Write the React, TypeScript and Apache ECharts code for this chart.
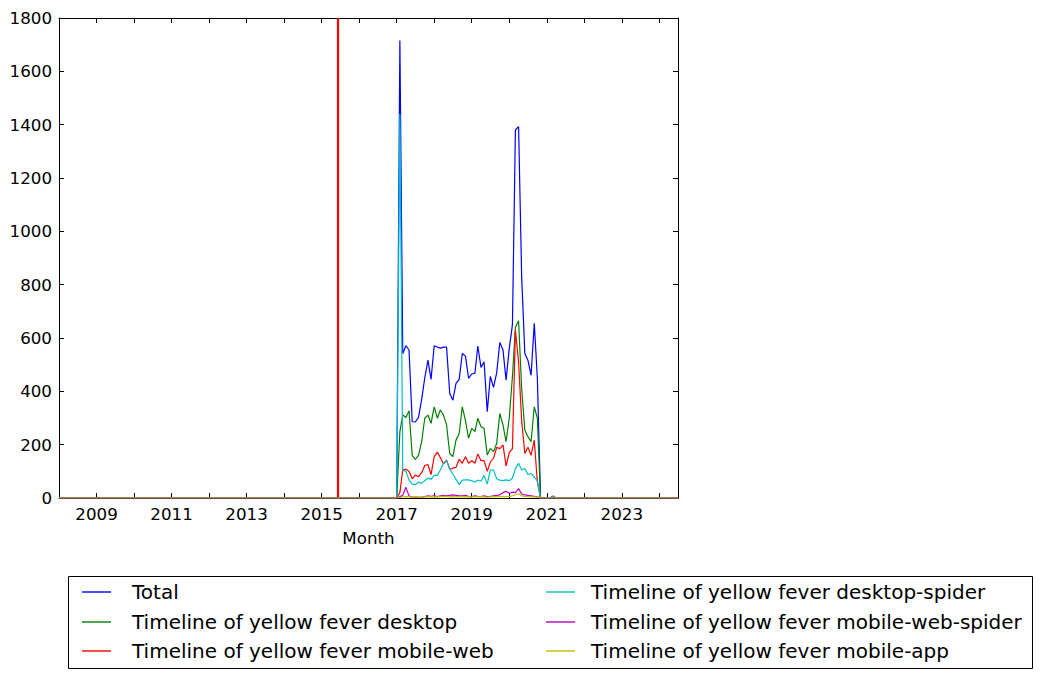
import React, { useEffect, useRef } from "react";
import * as echarts from "echarts";

// Names and colours (matplotlib classic b, g, r, c, m, y)
const seriesNames = [
  "Total",
  "Timeline of yellow fever desktop",
  "Timeline of yellow fever mobile-web",
  "Timeline of yellow fever desktop-spider",
  "Timeline of yellow fever mobile-web-spider",
  "Timeline of yellow fever mobile-app",
];
const seriesColors = ["#0000ff", "#008000", "#ff0000", "#00bfbf", "#bf00bf", "#bfbf00"];

// Monthly values from 2017-01 to 2021-06 (54 months); all other months are 0
const total = [
  0, 1716, 542, 571, 555, 286, 285, 302, 370, 450, 517, 445,
  571, 566, 562, 566, 566, 392, 367, 430, 445, 542, 532, 449,
  465, 468, 570, 490, 510, 324, 456, 415, 470, 583, 555, 442,
  560, 650, 1380, 1393, 830, 542, 517, 460, 655, 450, 0, 0,
  0, 0, 7, 0, 0, 0,
];
const desktop = [
  0, 249, 311, 302, 327, 160, 145, 160, 211, 299, 311, 280,
  342, 299, 330, 311, 274, 167, 155, 217, 242, 342, 290, 224,
  261, 249, 299, 267, 261, 161, 186, 174, 205, 317, 274, 211,
  300, 455, 640, 665, 410, 255, 230, 211, 342, 300, 0, 0,
  0, 0, 0, 0, 0, 0,
];
const mobileWeb = [
  0, 20, 105, 108, 100, 72, 86, 80, 95, 122, 125, 88,
  155, 172, 152, 128, 142, 108, 112, 115, 145, 130, 155, 130,
  140, 130, 165, 140, 140, 100, 135, 150, 190, 185, 199, 120,
  170, 185, 630, 510, 290, 167, 190, 160, 217, 60, 0, 0,
  0, 0, 0, 0, 0, 0,
];
const desktopSpider = [
  0, 1440, 105, 100, 67, 52, 50, 60, 55, 65, 75, 70,
  85, 85, 105, 130, 140, 110, 90, 70, 50, 67, 68, 68,
  64, 60, 67, 63, 85, 52, 105, 105, 72, 67, 65, 68,
  65, 75, 110, 130, 105, 110, 88, 92, 78, 65, 0, 0,
  0, 0, 7, 0, 0, 0,
];
const mobileWebSpider = [
  0, 5, 10, 40, 8, 3, 3, 2, 3, 5, 8, 6,
  8, 5, 8, 10, 8, 10, 12, 10, 8, 8, 10, 6,
  5, 8, 6, 5, 8, 5, 6, 8, 10, 12, 20, 25,
  18, 22, 20, 35, 15, 12, 10, 8, 6, 4, 0, 0,
  0, 0, 0, 0, 0, 0,
];
const mobileApp = [
  0, 2, 4, 5, 4, 3, 3, 4, 3, 4, 5, 4,
  5, 4, 5, 6, 5, 4, 5, 4, 5, 4, 5, 4,
  4, 5, 4, 5, 4, 3, 4, 5, 4, 5, 6, 5,
  6, 8, 12, 16, 8, 6, 5, 4, 4, 3, 0, 0,
  0, 0, 0, 0, 0, 0,
];
const seriesValues = [total, desktop, mobileWeb, desktopSpider, mobileWebSpider, mobileApp];

const firstMonth = { year: 2017, month: 0 };
const axisStart = { year: 2008, month: 0 };
const axisEnd = { year: 2024, month: 6 };
const redLineDate = { year: 2015, month: 5, day: 4 };
const yTicks = { min: 0, max: 1800, interval: 200 };

function decYear(y: number, m: number, d = 1): number {
  const a = Date.UTC(y, m, d);
  const b = Date.UTC(y, 0, 1);
  const c = Date.UTC(y + 1, 0, 1);
  return y + (a - b) / (c - b);
}

function buildPoints(values: number[]): number[][] {
  const pts: number[][] = [[decYear(axisStart.year, axisStart.month), 0]];
  pts.push([decYear(2016, 11), 0]);
  values.forEach((v, k) => {
    const mm = firstMonth.month + k;
    pts.push([decYear(firstMonth.year + Math.floor(mm / 12), mm % 12), v]);
  });
  pts.push([decYear(axisEnd.year, axisEnd.month), 0]);
  return pts;
}

const FONT = "DejaVu Sans";

export default function App() {
  const ref = useRef<HTMLDivElement>(null);
  useEffect(() => {
    if (!ref.current) return;
    const chart = echarts.init(ref.current, undefined, { renderer: "svg" });
    const xMin = decYear(axisStart.year, axisStart.month);
    const xMax = decYear(axisEnd.year, axisEnd.month);
    const tickFont = 16.7;

    const series: any[] = seriesValues.map((vals, i) => ({
      name: seriesNames[i],
      type: "line",
      data: buildPoints(vals),
      symbol: "none",
      showSymbol: false,
      lineStyle: { color: seriesColors[i], width: 1.2 },
      itemStyle: { color: seriesColors[i] },
      z: 2 + i,
    }));
    series[0].markLine = {
      silent: true,
      symbol: ["none", "none"],
      label: { show: false },
      lineStyle: { color: "#ff0000", width: 2.2, type: "solid" },
      data: [{ xAxis: decYear(redLineDate.year, redLineDate.month, redLineDate.day) }],
    };

    const legendEls: any[] = [
      {
        type: "rect",
        shape: { x: 68.5, y: 576.5, width: 964, height: 92 },
        style: { fill: "#fff", stroke: "#000", lineWidth: 1 },
        z: 10,
      },
    ];
    seriesNames.forEach((name, i) => {
      const col = Math.floor(i / 3);
      const row = i % 3;
      const x1 = col === 0 ? 82 : 546;
      const tx = col === 0 ? 132 : 591;
      const y = [592, 622, 651][row];
      legendEls.push({
        type: "line",
        shape: { x1, y1: y, x2: x1 + 29, y2: y },
        style: { stroke: seriesColors[i], lineWidth: 1.4 },
        z: 11,
      });
      legendEls.push({
        type: "text",
        x: tx,
        y,
        style: {
          text: name,
          fontSize: 20,
          fontFamily: FONT,
          fill: "#000",
          verticalAlign: "middle",
          align: "left",
        },
        z: 11,
      });
    });

    const baseX = {
      type: "value",
      min: xMin,
      max: xMax,
      interval: 1,
      splitLine: { show: false },
      axisLine: { show: true, onZero: false, lineStyle: { color: "#000", width: 1 } },
      axisTick: { show: true, inside: true, length: 5, lineStyle: { color: "#000" } },
    };
    const baseY = {
      type: "value",
      min: yTicks.min,
      max: yTicks.max,
      interval: yTicks.interval,
      splitLine: { show: false },
      axisLine: { show: true, lineStyle: { color: "#000", width: 1 } },
      axisTick: { show: true, inside: true, length: 5, lineStyle: { color: "#000" } },
    };

    chart.setOption({
      animation: false,
      backgroundColor: "#fff",
      grid: { left: 59, top: 18, width: 619, height: 480, containLabel: false },
      xAxis: [
        {
          ...baseX,
          position: "bottom",
          name: "Month",
          nameLocation: "middle",
          nameGap: 31,
          nameTextStyle: { color: "#000", fontSize: tickFont, fontFamily: FONT },
          axisLabel: {
            show: true,
            color: "#000",
            fontSize: tickFont,
            fontFamily: FONT,
            margin: 7,
            showMaxLabel: false,
            formatter: (v: number) => {
              const r = Math.round(v);
              return Math.abs(v - r) < 1e-6 && r % 2 === 1 ? String(r) : "";
            },
          },
        },
        { ...baseX, position: "top", axisLabel: { show: false } },
      ],
      yAxis: [
        {
          ...baseY,
          position: "left",
          axisLabel: {
            color: "#000",
            fontSize: tickFont,
            fontFamily: FONT,
            margin: 7,
            formatter: (v: number) => String(v),
          },
        },
        { ...baseY, position: "right", axisLabel: { show: false } },
      ],
      series,
      graphic: legendEls,
    });
    return () => chart.dispose();
  }, []);
  return (
    <div
      ref={ref}
      style={{ position: "fixed", left: 0, top: 0, width: 1042, height: 679, background: "#fff" }}
    />
  );
}
